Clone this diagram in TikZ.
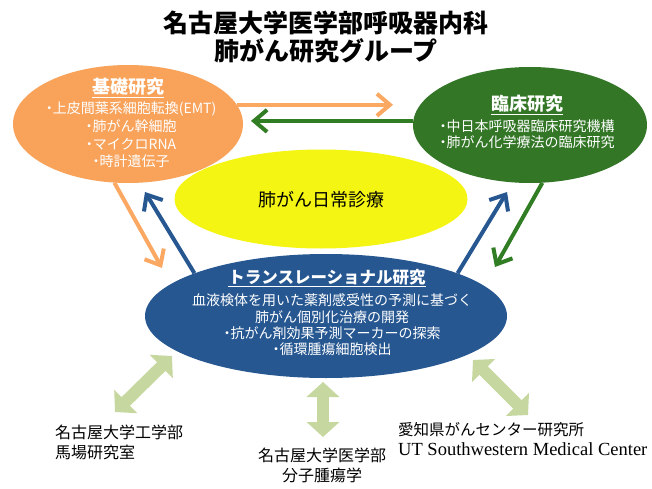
\documentclass[tikz,border=0pt]{standalone}
\usepackage{fontspec}
\setmainfont{Noto Sans CJK JP}
\newfontfamily\serifen{Liberation Serif}
\usetikzlibrary{shapes.geometric,arrows.meta}
\definecolor{orF}{RGB}{248,162,90}
\definecolor{orA}{RGB}{250,168,98}
\definecolor{grF}{RGB}{50,118,38}
\definecolor{grA}{RGB}{48,125,36}
\definecolor{blF}{RGB}{38,87,145}
\definecolor{ylF}{RGB}{245,245,20}
\definecolor{lgF}{RGB}{198,216,160}
\newcommand\bul{\makebox[0.5em][c]{・}}
\tikzset{
  blob/.style={ellipse, inner sep=0pt},
  barrow/.style={line width=4pt, -{Straight Barb[length=13pt,width=22pt]}},
  dblarrow/.style={line width=12pt, lgF, {Triangle[length=15pt,width=32pt]}-{Triangle[length=15pt,width=32pt]}},
  wtxt/.style={text=white, align=center, inner sep=0pt},
  head/.style={text=white, inner sep=0pt, font=\fontsize{18}{20}\selectfont\bfseries},
  ktxt/.style={text=black, inner sep=0pt},
}
\begin{document}
\begin{tikzpicture}[x=1pt,y=-1pt]
\useasboundingbox (0,0) rectangle (652,489);
\fill[white] (0,0) rectangle (652,489);
% title
\node[ktxt, font=\fontsize{25}{28}\selectfont\bfseries] (t1) at (326,23) {名古屋大学医学部呼吸器内科};
\node[ktxt, font=\fontsize{25}{28}\selectfont\bfseries] (t2) at (326,51) {肺がん研究グループ};
% coordinates for arrow tips
\coordinate (orTip) at (393,105);
\coordinate (glTip) at (251,123);
\coordinate (odTip) at (162,268);
\coordinate (buTipL) at (145,192);
\coordinate (buTipR) at (507,192);
\coordinate (gdTip) at (495,267);
\coordinate (lgA1) at (172,356);
\coordinate (lgA2) at (115,412);
\coordinate (lgB1) at (323,382);
\coordinate (lgB2) at (323,437);
\coordinate (lgC1) at (473,360);
\coordinate (lgC2) at (528,415);
% ellipses
\node[blob, fill=orF, minimum width=230pt, minimum height=118pt] (oe) at (128,124) {};
\node[blob, fill=grF, minimum width=234pt, minimum height=116pt] (ge) at (530,125) {};
\node[blob, fill=ylF, minimum width=293pt, minimum height=99pt] (ye) at (321,199) {};
\node[blob, fill=blF, minimum width=362pt, minimum height=124pt] (be) at (326,316) {};
% arrows
\draw[barrow, orA] (oe.10) -- (oe.10 -| orTip);
\draw[barrow, grA] (ge.178) -- (ge.178 -| glTip);
\draw[barrow, orA] (oe.257) -- (odTip);
\draw[barrow, blF] (be.162) -- (buTipL);
\draw[barrow, blF] (be.18) -- (buTipR);
\draw[barrow, grA] (ge.282) -- (gdTip);
\draw[dblarrow] (lgA1) -- (lgA2);
\draw[dblarrow] (lgB1) -- (lgB2);
\draw[dblarrow] (lgC1) -- (lgC2);
% texts in ellipses
\node[head] (oh) at (128,88) {\underline{基礎研究}};
\node[wtxt, font=\fontsize{14}{17.7}\selectfont] (ob) at (131,135) {\bul 上皮間葉系細胞転換(EMT)\\\bul 肺がん幹細胞\\\bul マイクロRNA\\\bul 時計遺伝子};
\node[head] (gh) at (527,105) {\underline{臨床研究}};
\node[wtxt, font=\fontsize{14}{16.5}\selectfont] (gb) at (527,134) {\bul 中日本呼吸器臨床研究機構\\\bul 肺がん化学療法の臨床研究};
\node[ktxt, font=\fontsize{18}{20}\selectfont] (yt) at (321,200) {肺がん日常診療};
\node[head, font=\fontsize{16.5}{20}\selectfont\bfseries] (bh) at (327,278) {\underline{トランスレーショナル研究}};
\node[wtxt, font=\fontsize{14}{16.3}\selectfont] (bb) at (332,325) {血液検体を用いた薬剤感受性の予測に基づく\\肺がん個別化治療の開発\\\bul 抗がん剤効果予測マーカーの探索\\\bul 循環腫瘍細胞検出};
% bottom labels
\node[ktxt, anchor=west, align=left, font=\fontsize{16}{20}\selectfont] (lab1) at (55,442) {名古屋大学工学部\\馬場研究室};
\node[ktxt, align=center, font=\fontsize{16}{20}\selectfont] (lab2) at (322,465) {名古屋大学医学部\\分子腫瘍学};
\node[ktxt, anchor=west, font=\fontsize{15.5}{18}\selectfont] (lab3a) at (398,430) {愛知県がんセンター研究所};
\node[ktxt, anchor=west, font=\serifen\fontsize{18.5}{20}\selectfont] (lab3b) at (398,449) {UT Southwestern Medical Center};
\end{tikzpicture}
\end{document}
